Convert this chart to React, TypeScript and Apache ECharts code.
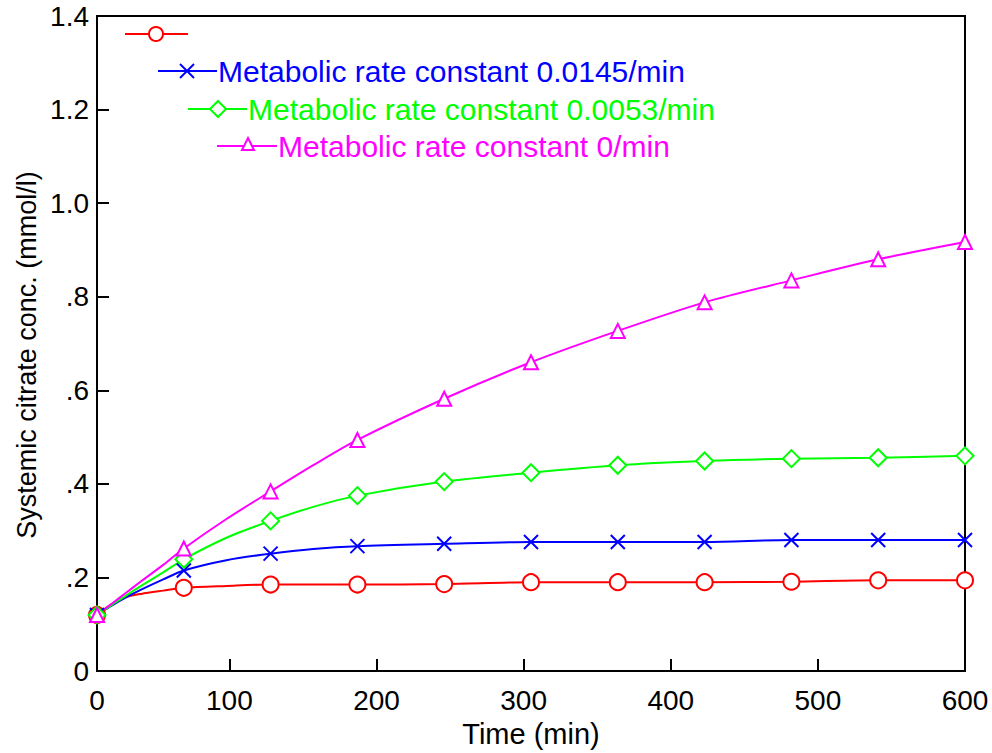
import React, { useEffect, useRef } from "react";
import * as echarts from "echarts";

const times = [10, 20, 30, 40, 55, 69, 98, 128, 157, 187, 246, 305, 364, 423, 482, 541, 600];
const markerTimes = [10, 69, 128, 187, 246, 305, 364, 423, 482, 541, 600];
const redValues = [0.12, 0.143, 0.158, 0.165, 0.172, 0.178, 0.182, 0.185, 0.185, 0.185, 0.186, 0.19, 0.19, 0.19, 0.191, 0.194, 0.194];
const blueValues = [0.12, 0.14, 0.158, 0.174, 0.196, 0.215, 0.237, 0.251, 0.261, 0.267, 0.272, 0.276, 0.276, 0.276, 0.28, 0.28, 0.28];
const greenValues = [0.12, 0.141, 0.162, 0.182, 0.211, 0.239, 0.285, 0.321, 0.351, 0.375, 0.405, 0.424, 0.44, 0.449, 0.454, 0.456, 0.46];
const magentaValues = [0.12, 0.144, 0.168, 0.192, 0.227, 0.262, 0.325, 0.384, 0.44, 0.494, 0.582, 0.66, 0.727, 0.788, 0.835, 0.88, 0.917];
const seriesNames = [
  "",
  "Metabolic rate constant 0.0145/min",
  "Metabolic rate constant 0.0053/min",
  "Metabolic rate constant 0/min",
];
const xTickValues = [100, 200, 300, 400, 500, 600];
const xLabelValues = [10, 100, 200, 300, 400, 500, 600];
const xLabelTexts = ["0", "100", "200", "300", "400", "500", "600"];
const yTickLabels: Record<string, string> = {
  "0": "0", "0.2": ".2", "0.4": ".4", "0.6": ".6", "0.8": ".8", "1": "1.0", "1.2": "1.2", "1.4": "1.4",
};
const xTitle = "Time (min)";
const yTitle = "Systemic citrate conc. (mmol/l)";

const FONT = "'Liberation Sans', Arial, sans-serif";
const xPath = "path://M0,0L10,10M10,0L0,10";

function buildData(vals: number[]) {
  return times.map((t, i) =>
    markerTimes.includes(t) ? { value: [t, vals[i]] } : { value: [t, vals[i]], symbol: "none" }
  );
}

export default function App() {
  const ref = useRef<HTMLDivElement>(null);
  useEffect(() => {
    if (!ref.current) return;
    const chart = echarts.init(ref.current, null, { renderer: "svg" });
    const mk = (name: string, vals: number[], color: string, symbol: string, size: number) => ({
      name,
      type: "line",
      data: buildData(vals),
      symbol,
      symbolSize: size,
      showSymbol: true,
      smooth: 0.3,
      clip: false,
      lineStyle: { color, width: 2 },
      itemStyle: { color, borderColor: color, borderWidth: 2 },
      emphasis: { disabled: true },
    });
    const legendItem = (
      x1: number, x2: number, y: number, color: string, marker: any, text: string
    ) => {
      const els: any[] = [
        { type: "line", shape: { x1, y1: y, x2, y2: y }, style: { stroke: color, lineWidth: 2 } },
        marker,
      ];
      if (text) {
        els.push({
          type: "text",
          x: x2 + 1,
          y: y,
          style: { text, fill: color, font: `30px ${FONT}`, textVerticalAlign: "middle", textAlign: "left" },
        });
      }
      return els;
    };
    const graphics: any[] = [
      ...legendItem(125, 188, 34, "#ff0000",
        { type: "circle", shape: { cx: 156, cy: 34, r: 7 }, style: { fill: "#fff", stroke: "#ff0000", lineWidth: 2 } }, seriesNames[0]),
      ...legendItem(158, 217, 71, "#0000ff",
        { type: "group", children: [
          { type: "line", shape: { x1: 180, y1: 64, x2: 194, y2: 78 }, style: { stroke: "#0000ff", lineWidth: 2 } },
          { type: "line", shape: { x1: 194, y1: 64, x2: 180, y2: 78 }, style: { stroke: "#0000ff", lineWidth: 2 } },
        ] }, seriesNames[1]),
      ...legendItem(188, 247, 109, "#00ff00",
        { type: "polygon", shape: { points: [[218, 101], [226, 109], [218, 117], [210, 109]] }, style: { fill: "#fff", stroke: "#00ff00", lineWidth: 2 } }, seriesNames[2]),
      ...legendItem(217, 277, 146, "#ff00ff",
        { type: "polygon", shape: { points: [[248, 138], [254, 150], [242, 150]] }, style: { fill: "#fff", stroke: "#ff00ff", lineWidth: 2 } }, seriesNames[3]),
      {
        type: "text",
        x: 27,
        y: 355,
        rotation: Math.PI / 2,
        style: { text: yTitle, fill: "#000", font: `27px ${FONT}`, textAlign: "center", textVerticalAlign: "middle" },
      },
    ];
    chart.setOption({
      animation: false,
      backgroundColor: "#ffffff",
      textStyle: { fontFamily: FONT },
      grid: {
        left: 97, right: 27, top: 16, bottom: 80,
        show: true, borderColor: "#000", borderWidth: 2, backgroundColor: "transparent",
      },
      xAxis: {
        type: "value", min: 10, max: 600,
        name: xTitle, nameLocation: "middle", nameGap: 37,
        nameTextStyle: { color: "#000", fontSize: 29, fontFamily: FONT },
        axisLine: { show: true, lineStyle: { color: "#000", width: 2 } },
        axisTick: { show: true, inside: true, length: 12, customValues: xTickValues, lineStyle: { color: "#000", width: 2 } },
        axisLabel: {
          color: "#000", fontSize: 28, fontFamily: FONT, margin: 15,
          customValues: xLabelValues,
          formatter: (v: number) => xLabelTexts[xLabelValues.indexOf(v)] ?? String(v),
        },
        splitLine: { show: false },
      },
      yAxis: {
        type: "value", min: 0, max: 1.4, interval: 0.2,
        axisLine: { show: true, lineStyle: { color: "#000", width: 2 } },
        axisTick: { show: true, inside: true, length: 12, lineStyle: { color: "#000", width: 2 } },
        axisLabel: {
          color: "#000", fontSize: 28, fontFamily: FONT, margin: 8,
          formatter: (v: number) => yTickLabels[String(Math.round(v * 10) / 10)] ?? String(v),
        },
        splitLine: { show: false },
      },
      series: [
        mk(seriesNames[0] || "red", redValues, "#ff0000", "emptyCircle", 16),
        mk(seriesNames[1], blueValues, "#0000ff", xPath, 14),
        mk(seriesNames[2], greenValues, "#00ff00", "emptyDiamond", 17),
        mk(seriesNames[3], magentaValues, "#ff00ff", "emptyTriangle", 14),
      ],
      graphic: graphics,
    });
    return () => chart.dispose();
  }, []);
  return (
    <div
      ref={ref}
      style={{ position: "fixed", left: 0, top: 0, width: 992, height: 753, background: "#fff" }}
    />
  );
}
